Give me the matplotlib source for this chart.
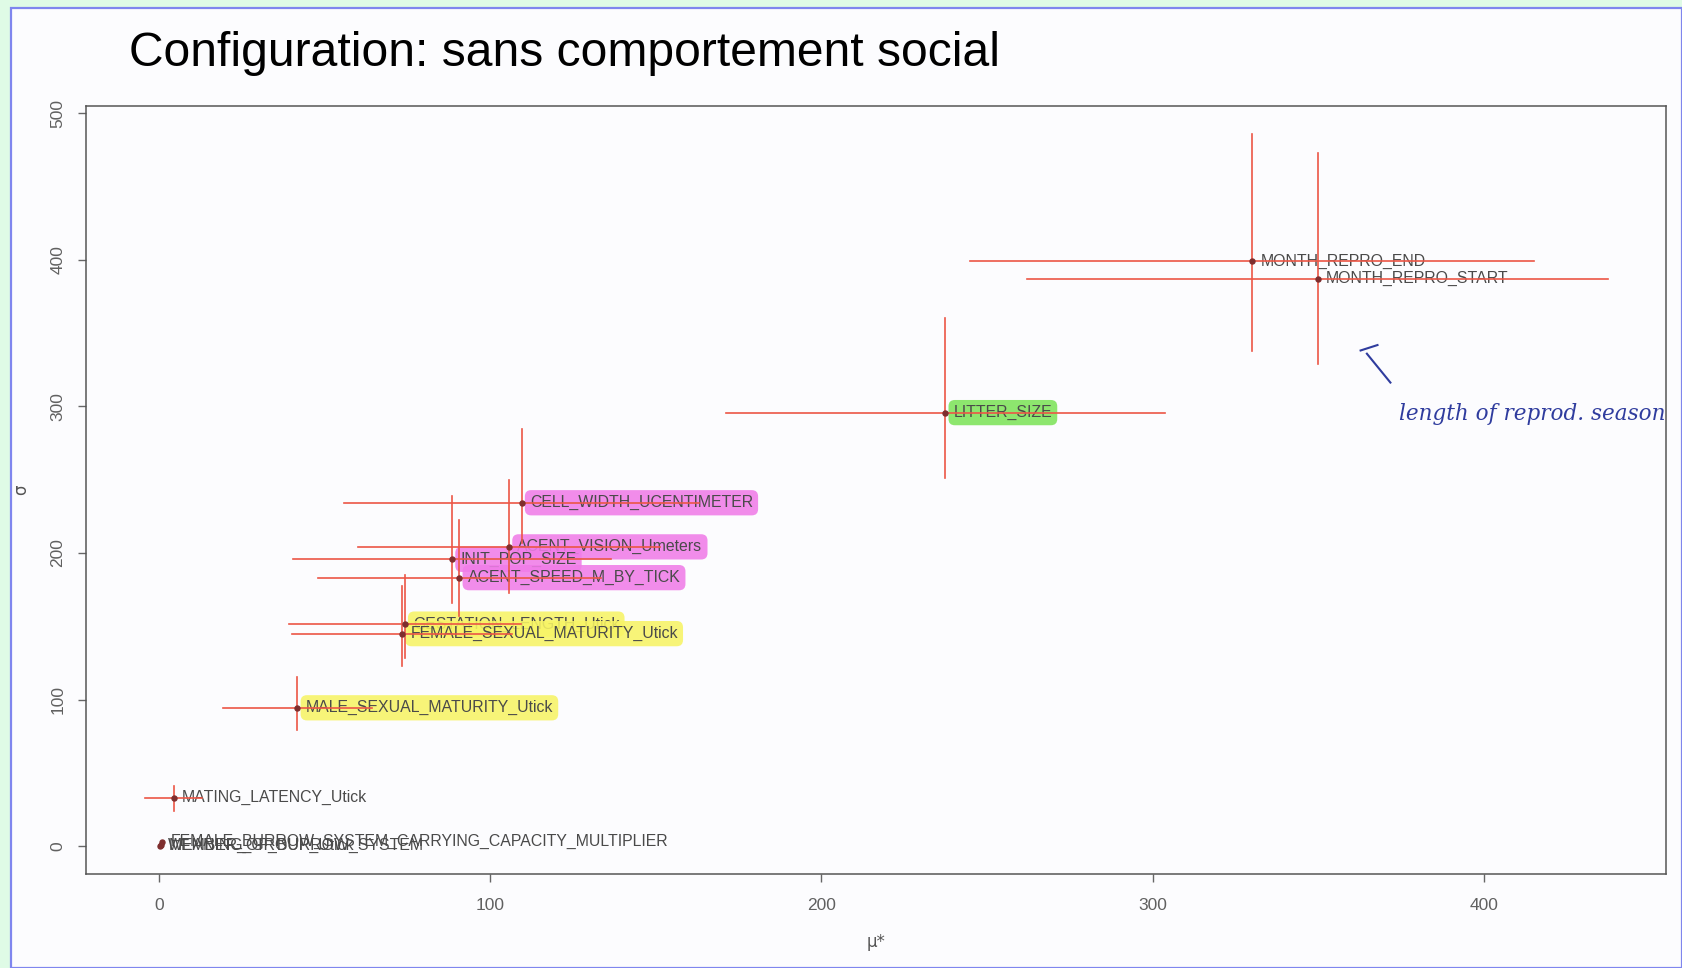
import matplotlib
matplotlib.use("Agg")
import matplotlib.pyplot as plt
from matplotlib.patches import Rectangle
from matplotlib.lines import Line2D

# ---------------- data ----------------
names = [
    "MONTH_REPRO_END",
    "MONTH_REPRO_START",
    "LITTER_SIZE",
    "CELL_WIDTH_UCENTIMETER",
    "ACENT_VISION_Umeters",
    "INIT_POP_SIZE",
    "ACENT_SPEED_M_BY_TICK",
    "GESTATION_LENGTH_Utick",
    "FEMALE_SEXUAL_MATURITY_Utick",
    "MALE_SEXUAL_MATURITY_Utick",
    "MATING_LATENCY_Utick",
    "FEMALE_BURROW_SYSTEM_CARRYING_CAPACITY_MULTIPLIER",
    "MEMBER_OF_BURROW_SYSTEM",
    "WEANING_GROUP_Utick",
]
mu_star = [330.0, 349.8, 237.4, 109.5, 105.7, 88.5, 90.7, 74.2, 73.4, 41.8, 4.5, 1.0, 0.5, 0.3]
sigma = [399.0, 387.3, 295.8, 234.3, 204.2, 195.7, 183.2, 151.5, 145.0, 94.4, 33.0, 3.0, 0.5, 0.2]
mu_half_width = [85.0, 87.8, 66.2, 53.5, 45.5, 48.0, 42.7, 35.0, 33.3, 22.4, 8.6, 0.0, 0.0, 0.0]
sigma_low = [338.0, 328.7, 251.1, 207.0, 173.0, 166.0, 156.7, 128.4, 123.0, 79.0, 24.2, 3.0, 0.5, 0.2]
sigma_high = [486.0, 472.9, 360.2, 284.8, 250.0, 239.0, 222.7, 185.2, 177.2, 115.7, 41.0, 3.0, 0.5, 0.2]

x_ticks = [0, 100, 200, 300, 400]
y_ticks = [0, 100, 200, 300, 400, 500]

highlight = {
    "LITTER_SIZE": "green",
    "CELL_WIDTH_UCENTIMETER": "pink",
    "ACENT_VISION_Umeters": "pink",
    "INIT_POP_SIZE": "pink",
    "ACENT_SPEED_M_BY_TICK": "pink",
    "GESTATION_LENGTH_Utick": "yellow",
    "FEMALE_SEXUAL_MATURITY_Utick": "yellow",
    "MALE_SEXUAL_MATURITY_Utick": "yellow",
}
marker_colors = {"pink": "#F07DE8", "yellow": "#F7F466", "green": "#7EE45A"}

title = "Configuration: sans comportement social"
note = "length of reprod. season"

# ---------------- figure ----------------
W, H = 1682, 968
fig = plt.figure(figsize=(W / 100, H / 100), dpi=100)
fig.patch.set_facecolor("#DFFBE6")
page = Rectangle((11 / W, 0), 1 - 11 / W, 1 - 8 / H, transform=fig.transFigure,
                 facecolor="#FCFCFE", edgecolor="#7F86EE", linewidth=1.6, zorder=-5)
fig.patches.append(page)

fig.text(129 / W, 1 - 66 / H, title, fontsize=34.6, family=["Liberation Sans", "DejaVu Sans"],
         color="black", ha="left", va="baseline", zorder=3)

ax = fig.add_axes([86 / W, 1 - 874 / H, (1666 - 86) / W, (874 - 106) / H])
ax.set_zorder(2)
ax.set_facecolor("none")
ax.set_xlim(-22, 455)
ax.set_ylim(-19, 505)

err_color = "#EC5646"
for i, n in enumerate(names):
    m, s = mu_star[i], sigma[i]
    if mu_half_width[i] > 0:
        ax.plot([m - mu_half_width[i], m + mu_half_width[i]], [s, s], color=err_color, lw=1.2, zorder=3)
    if sigma_high[i] > sigma_low[i]:
        ax.plot([m, m], [sigma_low[i], sigma_high[i]], color=err_color, lw=1.2, zorder=3)

ax.plot(mu_star, sigma, "o", color="#7E2E2E", markersize=3.6, zorder=4)

for i, n in enumerate(names):
    kw = {}
    if n in highlight:
        kw["bbox"] = dict(boxstyle="round,pad=0.32,rounding_size=0.4",
                          facecolor=marker_colors[highlight[n]], edgecolor="none", alpha=0.88)
    ax.annotate(n, (mu_star[i], sigma[i]), xytext=(6, 0), textcoords="offset points",
                ha="left", va="center", fontsize=11.4, color="#4A4A4A",
                family=["Liberation Sans", "DejaVu Sans"], zorder=2, **kw)

# handwritten note
ink = "#2F3C9E"
ax.text(374.5, 295, note, fontsize=15.5, family="DejaVu Serif", style="italic",
        color=ink, ha="left", va="center", zorder=5)
ax.add_line(Line2D([371.8, 364.7], [316.3, 336.0], color=ink, lw=1.5, zorder=5))
ax.add_line(Line2D([362.8, 367.9], [338.2, 341.9], color=ink, lw=1.5, zorder=5))

# axes styling (R-like)
for sp in ax.spines.values():
    sp.set_color("#555555")
    sp.set_linewidth(1.1)
ax.set_xticks(x_ticks)
ax.set_yticks(y_ticks)
ax.tick_params(direction="out", length=6, width=1, color="#666666", labelcolor="#606060",
               labelsize=12.5)
ax.tick_params(axis="x", pad=11)
ax.tick_params(axis="y", pad=9)
for lab in ax.get_yticklabels():
    lab.set_rotation(90)
    lab.set_va("center")
for lab in ax.get_xticklabels() + ax.get_yticklabels():
    lab.set_family(["Liberation Sans", "DejaVu Sans"])
ax.set_xlabel("μ*", fontsize=12, color="#555555", va="center")
ax.set_ylabel("σ", fontsize=12, color="#555555", va="center")
ax.xaxis.set_label_coords(0.5, -(942 - 874) / (874 - 106))
ax.yaxis.set_label_coords(-(86 - 21) / (1666 - 86), 0.5)

fig.savefig("out.png", dpi=100, facecolor=fig.get_facecolor())
